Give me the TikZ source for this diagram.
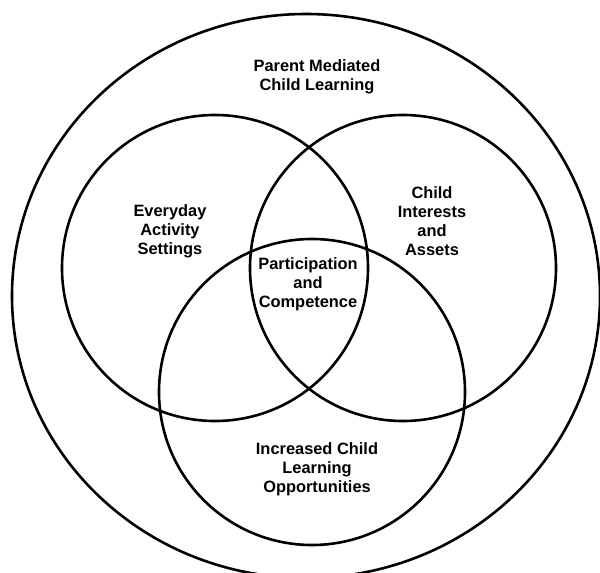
\documentclass[tikz,border=0pt]{standalone}
\usepackage{fontspec}
\setmainfont{Liberation Sans}
\usetikzlibrary{
    shapes.geometric,
    positioning
}

\begin{document}
\begin{tikzpicture}[
        x=1pt, y=-1pt,
        ring/.style={circle, draw, line width=2.6pt, inner sep=0pt, outer sep=0pt, minimum size=306pt},
        label/.style={align=center, font=\fontsize{16.4}{19}\selectfont\bfseries, inner sep=0pt}
    ]
        \useasboundingbox (0,0) rectangle (600,573);

        % Outer ring
        \node[ellipse, draw, line width=2.6pt, inner sep=0pt, minimum width=588pt, minimum height=564pt] (outer) at (306,296) {};

        % Three circles
        \node[ring] (everyday) at (215,268) {};
        \node[ring] (interests) at (403,268) {};
        \node[ring] (opps) at (312,392) {};

        % Labels
        \node[label] (parent) at (317,77) {Parent Mediated\\Child Learning};
        \node[label] (settings) at (170,231) {Everyday\\Activity\\Settings};
        \node[label] (assets) at (432,221) {Child\\Interests\\and\\Assets};
        \node[label] (particip) at (308,284) {Participation\\and\\Competence};
        \node[label] (increased) at (317,469) {Increased Child\\Learning\\Opportunities};
    \end{tikzpicture}
\end{document}
